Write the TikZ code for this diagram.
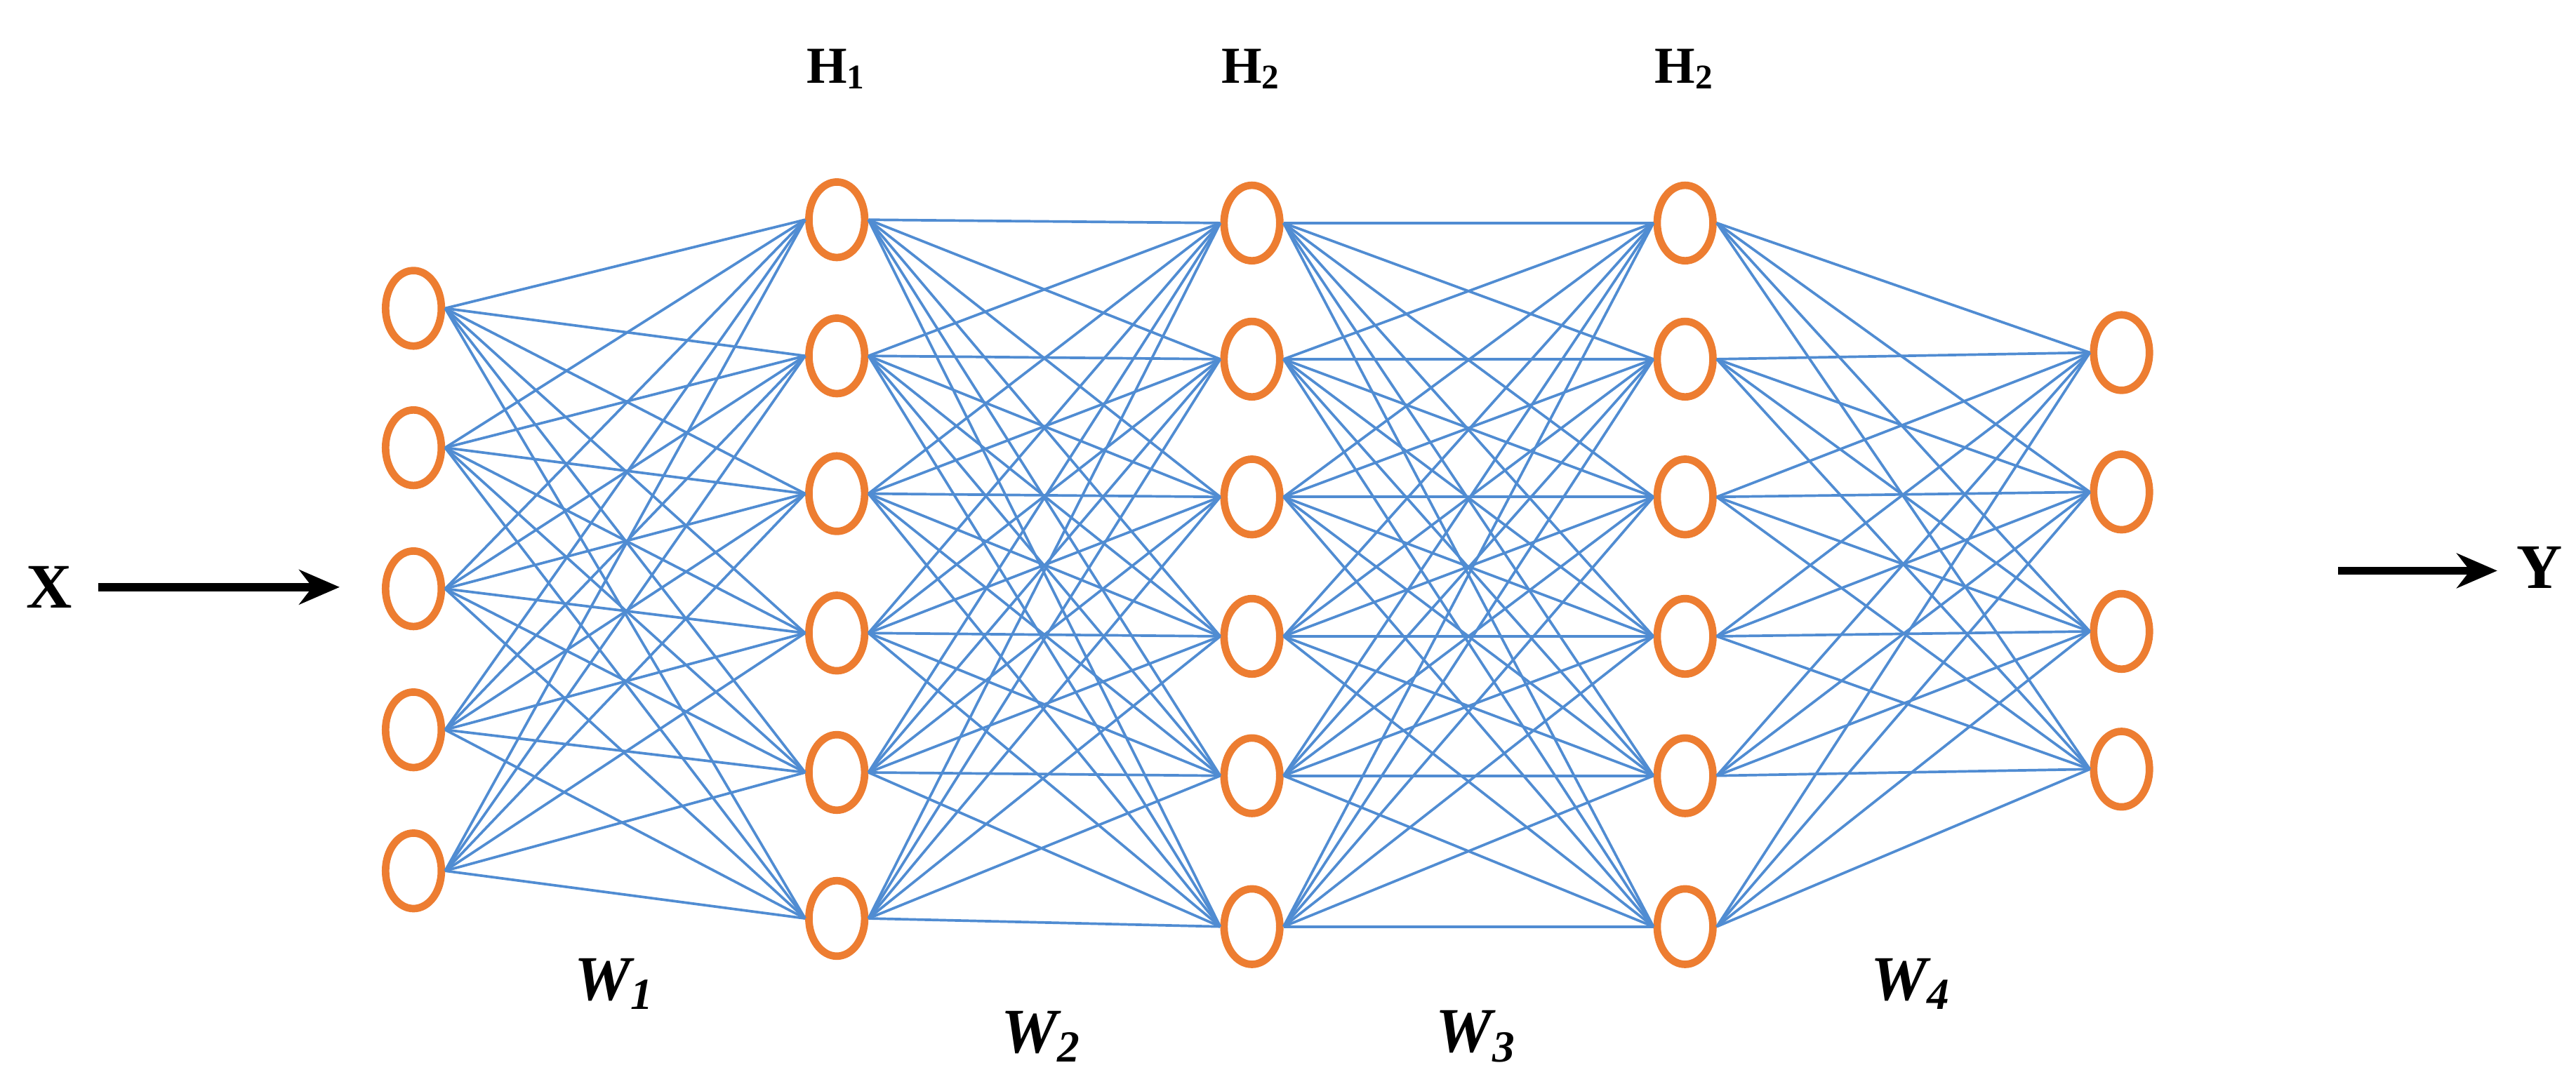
\documentclass[tikz,border=0pt]{standalone}
\usepackage{fontspec}
\setmainfont{Liberation Serif}
\usetikzlibrary{shapes.geometric,arrows.meta}
\definecolor{nodeor}{RGB}{237,125,49}
\definecolor{edgebl}{RGB}{80,140,210}
\begin{document}
\begin{tikzpicture}[x=0.01cm,y=-0.01cm,
  neuron/.style={ellipse,draw=nodeor,line width=1.3pt,minimum width=0.34cm,minimum height=0.46cm,inner sep=0pt,fill=white},
  edge/.style={draw=edgebl,line width=0.45pt},
  lab/.style={font=\bfseries\fontsize{9}{10}\selectfont},
  wlab/.style={font=\bfseries\itshape\fontsize{11}{12}\selectfont},
  arr/.style={-{Stealth[length=7pt,width=6pt]},line width=1.4pt}]
\useasboundingbox (0,0) rectangle (1570,665);
\foreach \y [count=\i] in {188,273,359,445,531} \node[neuron] (a\i) at (252,\y) {};
\foreach \y [count=\i] in {134,217,301,386,471,560} \node[neuron] (b\i) at (510,\y) {};
\foreach \y [count=\i] in {136,219,303,388,473,565} \node[neuron] (c\i) at (763,\y) {};
\foreach \y [count=\i] in {136,219,303,388,473,565} \node[neuron] (d\i) at (1027,\y) {};
\foreach \y [count=\i] in {215,300,385,469} \node[neuron] (e\i) at (1293,\y) {};
\foreach \i in {1,...,5}\foreach \j in {1,...,6} \draw[edge] (a\i.east) -- (b\j.west);
\foreach \i in {1,...,6}\foreach \j in {1,...,6} \draw[edge] (b\i.east) -- (c\j.west);
\foreach \i in {1,...,6}\foreach \j in {1,...,6} \draw[edge] (c\i.east) -- (d\j.west);
\foreach \i in {1,...,6}\foreach \j in {1,...,4} \draw[edge] (d\i.east) -- (e\j.west);
\node[lab] (h1) at (510,42) {H\textsubscript{1}};
\node[lab] (h2) at (763,42) {H\textsubscript{2}};
\node[lab] (h3) at (1027,42) {H\textsubscript{2}};
\node[lab,font=\bfseries\fontsize{11}{12}\selectfont] (x) at (30,358) {X};
\node[lab,font=\bfseries\fontsize{11}{12}\selectfont] (yy) at (1548,346) {Y};
\coordinate (xs) at (60,358);
\coordinate (xe) at (207,358);
\coordinate (ye) at (1522,348);
\coordinate (ys) at (1425,348);
\draw[arr] (xs) -- (xe);
\draw[arr] (ys) -- (ye);
\node[wlab] (w1) at (375,600) {W\textsubscript{1}};
\node[wlab] (w2) at (635,632) {W\textsubscript{2}};
\node[wlab] (w3) at (900,632) {W\textsubscript{3}};
\node[wlab] (w4) at (1165,600) {W\textsubscript{4}};
\end{tikzpicture}
\end{document}
